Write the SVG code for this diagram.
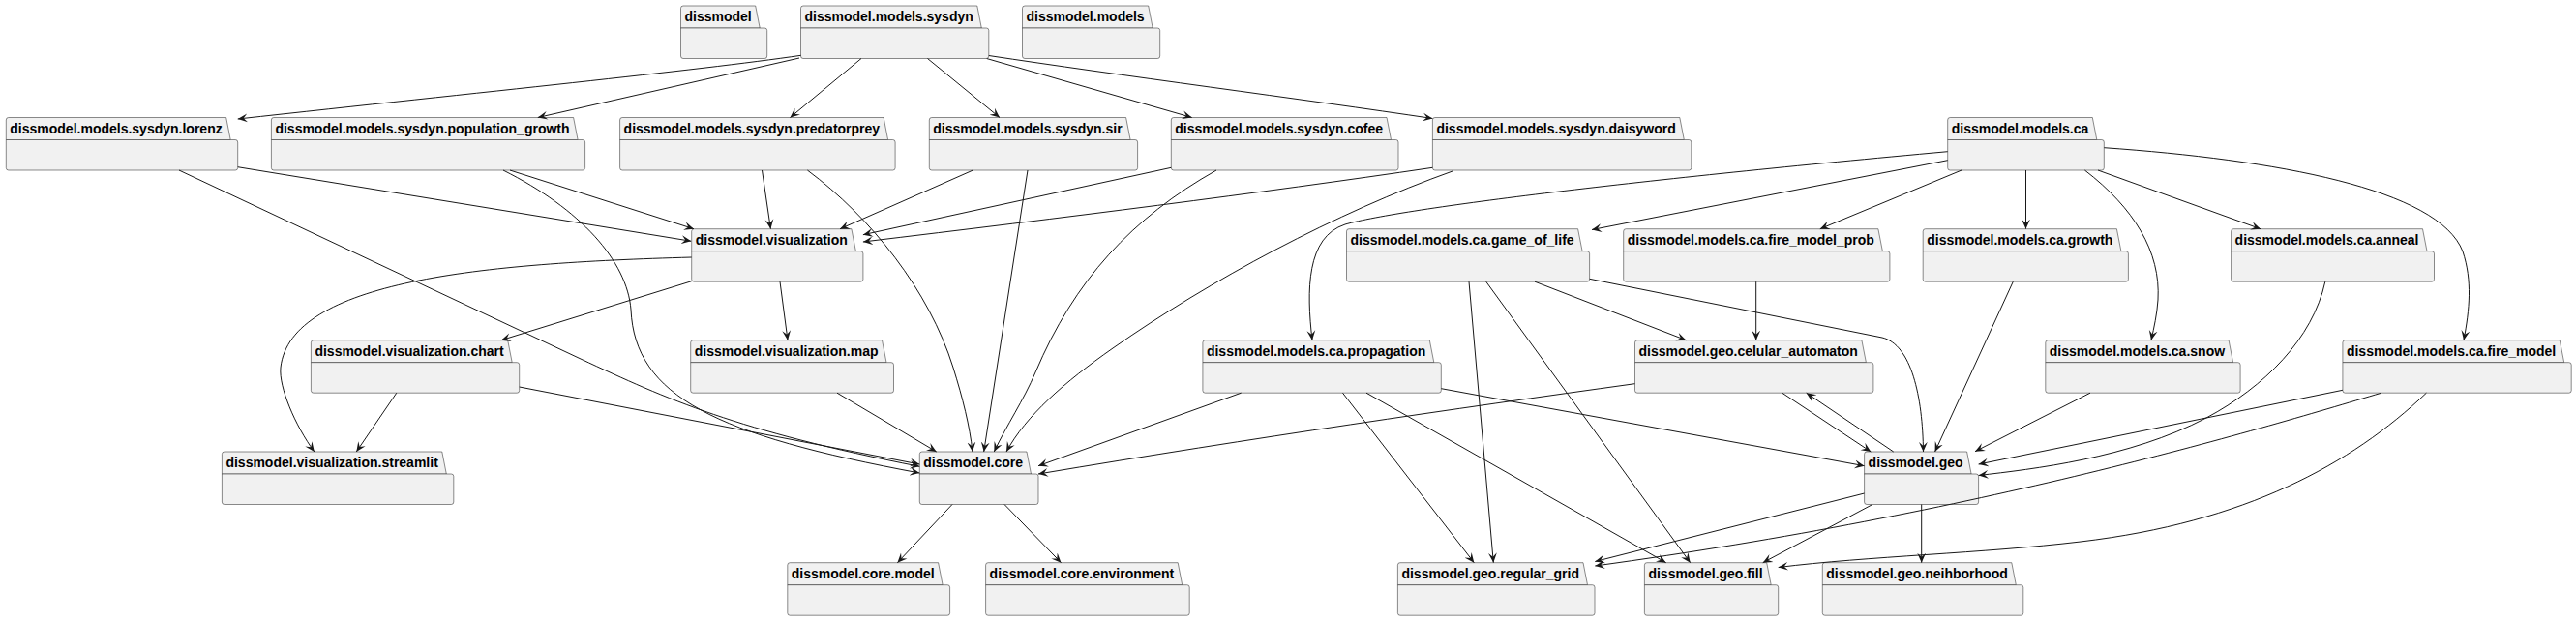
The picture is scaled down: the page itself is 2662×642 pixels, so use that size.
<svg xmlns="http://www.w3.org/2000/svg" width="2662" height="642" viewBox="0 0 2662 642">
<defs>
<style>
.tab,.body{fill:#F1F1F1;stroke:#181818;stroke-width:0.5}
text{font-family:"Liberation Sans",Arial,sans-serif;font-weight:bold;font-size:14px;fill:#000}
.e{fill:none;stroke:#181818;stroke-width:1;marker-end:url(#ah)}
</style>
<marker id="ah" viewBox="0 0 10 10" refX="10" refY="5" markerWidth="10" markerHeight="10" markerUnits="userSpaceOnUse" orient="auto"><path d="M10,5 L0,0.6 L4,5 L0,9.4 Z" fill="#181818"/></marker>
</defs>
<rect width="2662" height="642" fill="#FFFFFF"/>
<g id="nodes">
<g id="n-dissmodel" transform="translate(703.5,6)"><path class="tab" d="M0,23 V2.5 Q0,0 2.5,0 H77.2 L81.7,23 Z"/><path class="body" d="M0,23 H86.7 Q89.2,23 89.2,25.5 V52 Q89.2,54.5 86.7,54.5 H2.5 Q0,54.5 0,52 Z"/><text x="4" y="16.4">dissmodel</text></g>
<g id="n-sysdyn" transform="translate(827.5,6)"><path class="tab" d="M0,23 V2.5 Q0,0 2.5,0 H182.3 L186.8,23 Z"/><path class="body" d="M0,23 H191.8 Q194.3,23 194.3,25.5 V52 Q194.3,54.5 191.8,54.5 H2.5 Q0,54.5 0,52 Z"/><text x="4" y="16.4">dissmodel.models.sysdyn</text></g>
<g id="n-models" transform="translate(1056.5,6)"><path class="tab" d="M0,23 V2.5 Q0,0 2.5,0 H130.2 L134.7,23 Z"/><path class="body" d="M0,23 H139.7 Q142.2,23 142.2,25.5 V52 Q142.2,54.5 139.7,54.5 H2.5 Q0,54.5 0,52 Z"/><text x="4" y="16.4">dissmodel.models</text></g>
<g id="n-lorenz" transform="translate(6.3,121.5)"><path class="tab" d="M0,23 V2.5 Q0,0 2.5,0 H227.4 L231.9,23 Z"/><path class="body" d="M0,23 H236.9 Q239.4,23 239.4,25.5 V52 Q239.4,54.5 236.9,54.5 H2.5 Q0,54.5 0,52 Z"/><text x="4" y="16.4">dissmodel.models.sysdyn.lorenz</text></g>
<g id="n-population_growth" transform="translate(280.4,121.5)"><path class="tab" d="M0,23 V2.5 Q0,0 2.5,0 H312.2 L316.7,23 Z"/><path class="body" d="M0,23 H321.7 Q324.2,23 324.2,25.5 V52 Q324.2,54.5 321.7,54.5 H2.5 Q0,54.5 0,52 Z"/><text x="4" y="16.4">dissmodel.models.sysdyn.population_growth</text></g>
<g id="n-predatorprey" transform="translate(640.6,121.5)"><path class="tab" d="M0,23 V2.5 Q0,0 2.5,0 H272.5 L277,23 Z"/><path class="body" d="M0,23 H282 Q284.5,23 284.5,25.5 V52 Q284.5,54.5 282,54.5 H2.5 Q0,54.5 0,52 Z"/><text x="4" y="16.4">dissmodel.models.sysdyn.predatorprey</text></g>
<g id="n-sir" transform="translate(960.3,121.5)"><path class="tab" d="M0,23 V2.5 Q0,0 2.5,0 H203.3 L207.8,23 Z"/><path class="body" d="M0,23 H212.8 Q215.3,23 215.3,25.5 V52 Q215.3,54.5 212.8,54.5 H2.5 Q0,54.5 0,52 Z"/><text x="4" y="16.4">dissmodel.models.sysdyn.sir</text></g>
<g id="n-cofee" transform="translate(1210.3,121.5)"><path class="tab" d="M0,23 V2.5 Q0,0 2.5,0 H222.7 L227.2,23 Z"/><path class="body" d="M0,23 H232.2 Q234.7,23 234.7,25.5 V52 Q234.7,54.5 232.2,54.5 H2.5 Q0,54.5 0,52 Z"/><text x="4" y="16.4">dissmodel.models.sysdyn.cofee</text></g>
<g id="n-daisyword" transform="translate(1480.4,121.5)"><path class="tab" d="M0,23 V2.5 Q0,0 2.5,0 H255.4 L259.9,23 Z"/><path class="body" d="M0,23 H264.9 Q267.4,23 267.4,25.5 V52 Q267.4,54.5 264.9,54.5 H2.5 Q0,54.5 0,52 Z"/><text x="4" y="16.4">dissmodel.models.sysdyn.daisyword</text></g>
<g id="n-ca" transform="translate(2012.7,121.5)"><path class="tab" d="M0,23 V2.5 Q0,0 2.5,0 H149.6 L154.1,23 Z"/><path class="body" d="M0,23 H159.1 Q161.6,23 161.6,25.5 V52 Q161.6,54.5 159.1,54.5 H2.5 Q0,54.5 0,52 Z"/><text x="4" y="16.4">dissmodel.models.ca</text></g>
<g id="n-visualization" transform="translate(714.7,236.7)"><path class="tab" d="M0,23 V2.5 Q0,0 2.5,0 H165.2 L169.7,23 Z"/><path class="body" d="M0,23 H174.7 Q177.2,23 177.2,25.5 V52 Q177.2,54.5 174.7,54.5 H2.5 Q0,54.5 0,52 Z"/><text x="4" y="16.4">dissmodel.visualization</text></g>
<g id="n-game_of_life" transform="translate(1391.5,236.7)"><path class="tab" d="M0,23 V2.5 Q0,0 2.5,0 H239.1 L243.6,23 Z"/><path class="body" d="M0,23 H248.6 Q251.1,23 251.1,25.5 V52 Q251.1,54.5 248.6,54.5 H2.5 Q0,54.5 0,52 Z"/><text x="4" y="16.4">dissmodel.models.ca.game_of_life</text></g>
<g id="n-fire_model_prob" transform="translate(1677.7,236.7)"><path class="tab" d="M0,23 V2.5 Q0,0 2.5,0 H263.2 L267.7,23 Z"/><path class="body" d="M0,23 H272.7 Q275.2,23 275.2,25.5 V52 Q275.2,54.5 272.7,54.5 H2.5 Q0,54.5 0,52 Z"/><text x="4" y="16.4">dissmodel.models.ca.fire_model_prob</text></g>
<g id="n-growth" transform="translate(1987.2,236.7)"><path class="tab" d="M0,23 V2.5 Q0,0 2.5,0 H200.2 L204.7,23 Z"/><path class="body" d="M0,23 H209.7 Q212.2,23 212.2,25.5 V52 Q212.2,54.5 209.7,54.5 H2.5 Q0,54.5 0,52 Z"/><text x="4" y="16.4">dissmodel.models.ca.growth</text></g>
<g id="n-anneal" transform="translate(2305.6,236.7)"><path class="tab" d="M0,23 V2.5 Q0,0 2.5,0 H197.9 L202.4,23 Z"/><path class="body" d="M0,23 H207.4 Q209.9,23 209.9,25.5 V52 Q209.9,54.5 207.4,54.5 H2.5 Q0,54.5 0,52 Z"/><text x="4" y="16.4">dissmodel.models.ca.anneal</text></g>
<g id="n-chart" transform="translate(321.4,351.7)"><path class="tab" d="M0,23 V2.5 Q0,0 2.5,0 H203.3 L207.8,23 Z"/><path class="body" d="M0,23 H212.8 Q215.3,23 215.3,25.5 V52 Q215.3,54.5 212.8,54.5 H2.5 Q0,54.5 0,52 Z"/><text x="4" y="16.4">dissmodel.visualization.chart</text></g>
<g id="n-map" transform="translate(713.7,351.7)"><path class="tab" d="M0,23 V2.5 Q0,0 2.5,0 H197.8 L202.3,23 Z"/><path class="body" d="M0,23 H207.3 Q209.8,23 209.8,25.5 V52 Q209.8,54.5 207.3,54.5 H2.5 Q0,54.5 0,52 Z"/><text x="4" y="16.4">dissmodel.visualization.map</text></g>
<g id="n-propagation" transform="translate(1242.9,351.7)"><path class="tab" d="M0,23 V2.5 Q0,0 2.5,0 H234.4 L238.9,23 Z"/><path class="body" d="M0,23 H243.9 Q246.4,23 246.4,25.5 V52 Q246.4,54.5 243.9,54.5 H2.5 Q0,54.5 0,52 Z"/><text x="4" y="16.4">dissmodel.models.ca.propagation</text></g>
<g id="n-celular_automaton" transform="translate(1689.5,351.7)"><path class="tab" d="M0,23 V2.5 Q0,0 2.5,0 H234.4 L238.9,23 Z"/><path class="body" d="M0,23 H243.9 Q246.4,23 246.4,25.5 V52 Q246.4,54.5 243.9,54.5 H2.5 Q0,54.5 0,52 Z"/><text x="4" y="16.4">dissmodel.geo.celular_automaton</text></g>
<g id="n-snow" transform="translate(2113.8,351.7)"><path class="tab" d="M0,23 V2.5 Q0,0 2.5,0 H189.3 L193.8,23 Z"/><path class="body" d="M0,23 H198.8 Q201.3,23 201.3,25.5 V52 Q201.3,54.5 198.8,54.5 H2.5 Q0,54.5 0,52 Z"/><text x="4" y="16.4">dissmodel.models.ca.snow</text></g>
<g id="n-fire_model" transform="translate(2420.9,351.7)"><path class="tab" d="M0,23 V2.5 Q0,0 2.5,0 H224.3 L228.8,23 Z"/><path class="body" d="M0,23 H233.8 Q236.3,23 236.3,25.5 V52 Q236.3,54.5 233.8,54.5 H2.5 Q0,54.5 0,52 Z"/><text x="4" y="16.4">dissmodel.models.ca.fire_model</text></g>
<g id="n-streamlit" transform="translate(229.4,467)"><path class="tab" d="M0,23 V2.5 Q0,0 2.5,0 H227.4 L231.9,23 Z"/><path class="body" d="M0,23 H236.9 Q239.4,23 239.4,25.5 V52 Q239.4,54.5 236.9,54.5 H2.5 Q0,54.5 0,52 Z"/><text x="4" y="16.4">dissmodel.visualization.streamlit</text></g>
<g id="n-core" transform="translate(950.3,467)"><path class="tab" d="M0,23 V2.5 Q0,0 2.5,0 H110.7 L115.2,23 Z"/><path class="body" d="M0,23 H120.2 Q122.7,23 122.7,25.5 V52 Q122.7,54.5 120.2,54.5 H2.5 Q0,54.5 0,52 Z"/><text x="4" y="16.4">dissmodel.core</text></g>
<g id="n-geo" transform="translate(1926.6,467)"><path class="tab" d="M0,23 V2.5 Q0,0 2.5,0 H106 L110.5,23 Z"/><path class="body" d="M0,23 H115.5 Q118,23 118,25.5 V52 Q118,54.5 115.5,54.5 H2.5 Q0,54.5 0,52 Z"/><text x="4" y="16.4">dissmodel.geo</text></g>
<g id="n-core_model" transform="translate(813.8,581.7)"><path class="tab" d="M0,23 V2.5 Q0,0 2.5,0 H155.8 L160.3,23 Z"/><path class="body" d="M0,23 H165.3 Q167.8,23 167.8,25.5 V52 Q167.8,54.5 165.3,54.5 H2.5 Q0,54.5 0,52 Z"/><text x="4" y="16.4">dissmodel.core.model</text></g>
<g id="n-core_environment" transform="translate(1018.6,581.7)"><path class="tab" d="M0,23 V2.5 Q0,0 2.5,0 H198.6 L203.1,23 Z"/><path class="body" d="M0,23 H208.1 Q210.6,23 210.6,25.5 V52 Q210.6,54.5 208.1,54.5 H2.5 Q0,54.5 0,52 Z"/><text x="4" y="16.4">dissmodel.core.environment</text></g>
<g id="n-regular_grid" transform="translate(1444.4,581.7)"><path class="tab" d="M0,23 V2.5 Q0,0 2.5,0 H191.6 L196.1,23 Z"/><path class="body" d="M0,23 H201.1 Q203.6,23 203.6,25.5 V52 Q203.6,54.5 201.1,54.5 H2.5 Q0,54.5 0,52 Z"/><text x="4" y="16.4">dissmodel.geo.regular_grid</text></g>
<g id="n-fill" transform="translate(1699.4,581.7)"><path class="tab" d="M0,23 V2.5 Q0,0 2.5,0 H126.3 L130.8,23 Z"/><path class="body" d="M0,23 H135.8 Q138.3,23 138.3,25.5 V52 Q138.3,54.5 135.8,54.5 H2.5 Q0,54.5 0,52 Z"/><text x="4" y="16.4">dissmodel.geo.fill</text></g>
<g id="n-neihborhood" transform="translate(1883.3,581.7)"><path class="tab" d="M0,23 V2.5 Q0,0 2.5,0 H195.5 L200,23 Z"/><path class="body" d="M0,23 H205 Q207.5,23 207.5,25.5 V52 Q207.5,54.5 205,54.5 H2.5 Q0,54.5 0,52 Z"/><text x="4" y="16.4">dissmodel.geo.neihborhood</text></g>
</g>
<g id="connectors">
<path class="e" d="M827.7,57.3 C720,73 500,95 245.7,123"/>
<path class="e" d="M826,60 L555.8,121.5"/>
<path class="e" d="M890,60.5 L816.5,121.5"/>
<path class="e" d="M958.5,60.5 L1033,121.5"/>
<path class="e" d="M1019.6,60.5 L1231.7,121.5"/>
<path class="e" d="M1021.8,57.5 C1150,77 1350,103 1480.4,122.5"/>
<path class="e" d="M245.7,172.7 L714.2,249.3"/>
<path class="e" d="M527,176 L717,236.7"/>
<path class="e" d="M787.5,176 L796.4,236.7"/>
<path class="e" d="M1005.4,176 L868,236.7"/>
<path class="e" d="M1210.3,173.3 L891.9,242.7"/>
<path class="e" d="M1480.4,173.3 C1300,200 1100,225 891.9,250"/>
<path class="e" d="M185,176 L600,371 C690,413 760,445 950.3,482.3"/>
<path class="e" d="M520,176 C600,216 648,270 652,320 C656,410 740,450 950.3,489"/>
<path class="e" d="M536.7,400 L950.3,480"/>
<path class="e" d="M409.8,406.2 L368.3,467"/>
<path class="e" d="M714.7,266 C500,272 300,290 290,380 C288,400 305,440 324.8,467"/>
<path class="e" d="M714.7,290.7 L517.9,351.7"/>
<path class="e" d="M806,291.2 L814,351.7"/>
<path class="e" d="M865,406.2 L967.7,467"/>
<path class="e" d="M834.4,176 C900,225 960,300 985,380 C995,412 1002,440 1005,467"/>
<path class="e" d="M1062,176 L1016.7,467"/>
<path class="e" d="M1257,176 C1170,225 1110,290 1070,385 C1058,413.5 1040,440 1027.3,467"/>
<path class="e" d="M1501.8,176.7 C1380,220 1250,290 1150,360 C1100,395 1060,430 1040,467"/>
<path class="e" d="M2012.7,156.7 C1700,185 1450,215 1390,232 C1350,245 1350,300 1356,351.7"/>
<path class="e" d="M2012.7,165.7 L1645,237.5"/>
<path class="e" d="M2027,176 L1880.8,236.7"/>
<path class="e" d="M2093.5,176 L2093.5,236.7"/>
<path class="e" d="M2168,176 L2336,236.7"/>
<path class="e" d="M2154.4,176 C2205,215 2233,260 2230,310 C2229,325 2226,338 2223,351.7"/>
<path class="e" d="M2174.3,152.7 C2350,165 2520,195 2545,260 C2555,290 2552,320 2546,351.7"/>
<path class="e" d="M1518,291.2 L1543.3,581.7"/>
<path class="e" d="M1535.7,291.2 L1746.7,581.7"/>
<path class="e" d="M1586,291.2 L1742.4,351.7"/>
<path class="e" d="M1642.6,288.3 L1945,349 C1975,356 1987,410 1987.5,467"/>
<path class="e" d="M1814.7,291.2 L1814.7,351.7"/>
<path class="e" d="M2080.3,291.2 L1999.6,467"/>
<path class="e" d="M2402.8,291.2 C2390,350 2340,400 2280,432 C2200,474 2100,485 2044.6,491.5"/>
<path class="e" d="M2160,406.2 L2041,466.7"/>
<path class="e" d="M2420.9,403.3 L2044.6,480"/>
<path class="e" d="M2461,406.2 C2330,445 2050,530 1648.3,585"/>
<path class="e" d="M2507.4,406.2 C2430,480 2320,540 2150,560 C2050,572 1930,575 1837.7,586.5"/>
<path class="e" d="M1282.6,406.2 L1073,481.7"/>
<path class="e" d="M1689.5,396.7 C1500,423 1300,452 1073,490"/>
<path class="e" d="M1387.5,406.2 L1523.3,581.7"/>
<path class="e" d="M1412,406.2 L1721.7,581.7"/>
<path class="e" d="M1489.3,401.7 L1926.6,481.7"/>
<path class="e" d="M1841.7,406.2 L1933.3,467"/>
<path class="e" d="M1956.7,467 L1866.7,406.2"/>
<path class="e" d="M1926.6,510 L1648.3,580.5"/>
<path class="e" d="M1935,521.5 L1821.7,581.7"/>
<path class="e" d="M1985.7,521.5 L1985.7,581.7"/>
<path class="e" d="M984,521.5 L927.4,581.7"/>
<path class="e" d="M1038,521.5 L1096.5,581.7"/>
</g>
</svg>
